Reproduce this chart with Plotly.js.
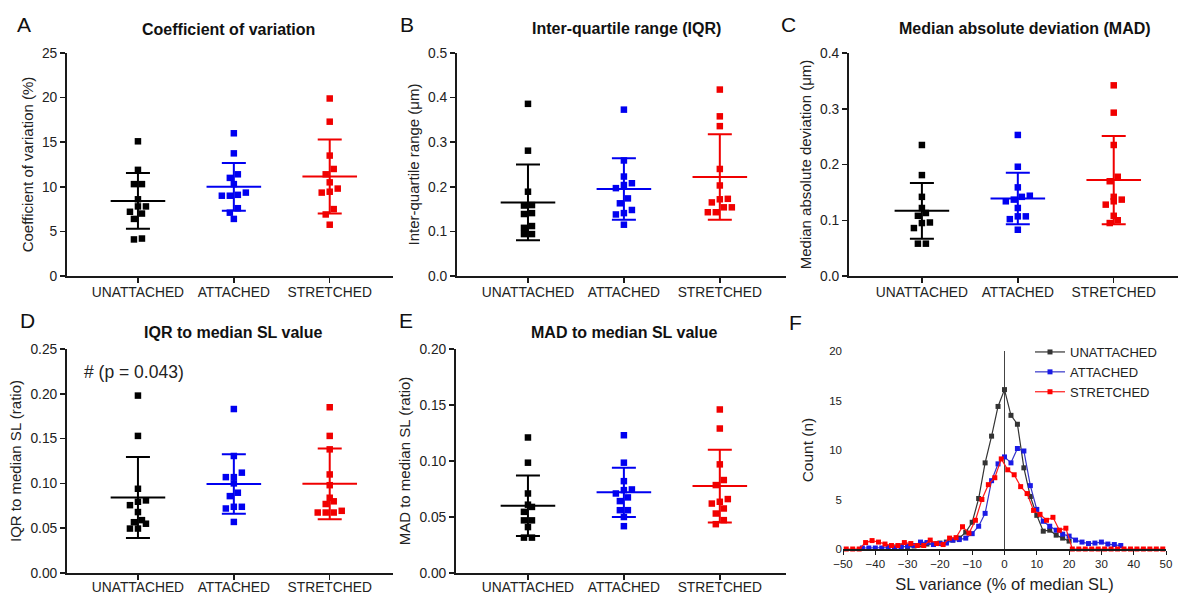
<!DOCTYPE html>
<html>
<head>
<meta charset="utf-8">
<script src="https://cdn.plot.ly/plotly-3.0.1.min.js"></script>
<style>html,body{margin:0;padding:0;background:#fff;}#chart{width:1178px;height:594px;}</style>
</head>
<body>
<div id="chart"></div>
<script>
// ---------- categories ----------
const groups = ['UNATTACHED', 'ATTACHED', 'STRETCHED'];

// ---------- A: coefficient of variation (%) ----------
const cvUnattached = [15.1, 11.9, 10.3, 10.3, 8.6, 7.8, 7.8, 7.0, 7.2, 6.4, 4.1, 4.2];
const cvAttached   = [16.0, 13.75, 11.4, 11.0, 10.3, 9.1, 9.0, 9.0, 9.35, 7.6, 7.1, 6.4];
const cvStretched  = [19.9, 17.3, 13.5, 12.0, 11.4, 10.5, 9.8, 9.35, 9.45, 7.5, 6.9, 5.75];
const cvMean = [8.42, 10.0, 11.15];
const cvSD   = [3.12, 2.68, 4.15];

// ---------- B: inter-quartile range (um) ----------
const iqrUnattached = [0.386, 0.281, 0.189, 0.159, 0.158, 0.139, 0.141, 0.108, 0.112, 0.094, 0.094];
const iqrAttached   = [0.373, 0.259, 0.223, 0.204, 0.208, 0.197, 0.174, 0.163, 0.141, 0.148, 0.138, 0.115];
const iqrStretched  = [0.418, 0.358, 0.336, 0.240, 0.203, 0.172, 0.173, 0.165, 0.154, 0.154, 0.143, 0.143];
const iqrMean = [0.165, 0.195, 0.222];
const iqrSD   = [0.085, 0.069, 0.096];

// ---------- C: median absolute deviation (um) ----------
const madUnattached = [0.235, 0.181, 0.142, 0.122, 0.113, 0.108, 0.096, 0.095, 0.086, 0.058, 0.058];
const madAttached   = [0.253, 0.196, 0.159, 0.142, 0.144, 0.137, 0.134, 0.122, 0.107, 0.107, 0.102, 0.083];
const madStretched  = [0.342, 0.293, 0.235, 0.170, 0.178, 0.142, 0.137, 0.134, 0.128, 0.108, 0.095, 0.100];
const madMean = [0.117, 0.139, 0.172];
const madSD   = [0.050, 0.046, 0.079];

// ---------- D: IQR to median SL (ratio) ----------
const iqrRatioUnattached = [0.198, 0.153, 0.094, 0.081, 0.0795, 0.0757, 0.068, 0.059, 0.055, 0.0567, 0.0496, 0.0496];
const iqrRatioAttached   = [0.183, 0.1306, 0.112, 0.107, 0.107, 0.100, 0.0896, 0.0858, 0.0739, 0.0739, 0.072, 0.057];
const iqrRatioStretched  = [0.185, 0.153, 0.138, 0.110, 0.098, 0.080, 0.084, 0.077, 0.0675, 0.0675, 0.0675, 0.0694];
const iqrRatioMean = [0.0843, 0.0993, 0.0995];
const iqrRatioSD   = [0.0452, 0.0331, 0.0395];

// ---------- E: MAD to median SL (ratio) ----------
const madRatioUnattached = [0.121, 0.0985, 0.071, 0.061, 0.059, 0.0546, 0.047, 0.047, 0.041, 0.0316, 0.0316];
const madRatioAttached   = [0.123, 0.0985, 0.082, 0.0746, 0.074, 0.071, 0.0675, 0.0642, 0.0561, 0.0561, 0.050, 0.0418];
const madRatioStretched  = [0.146, 0.129, 0.097, 0.083, 0.0785, 0.066, 0.0636, 0.062, 0.0576, 0.0531, 0.0472, 0.0436];
const madRatioMean = [0.060, 0.072, 0.0776];
const madRatioSD   = [0.027, 0.022, 0.0325];

// ---------- F: SL variance histogram ----------
const fBinsUnattached = [-34,-32,-30,-28,-26,-24,-22,-20,-18,-16,-14,-12,-10,-8,-6,-4,-2,0,2,4,6,8,10,12,14,16,18,20];
const fUnattached     = [0.2,0.3,0.2,0.3,0.4,0.5,0.5,0.6,0.7,0.9,1.1,1.7,2.7,5.1,8.7,11.4,14.4,16.1,13.5,12.6,8.2,5.3,3.4,1.8,1.9,1.4,1.1,0.8];
const fBinsAttached = [-44,-42,-40,-38,-36,-34,-32,-30,-28,-26,-24,-22,-20,-18,-16,-14,-12,-10,-8,-6,-4,-2,0,2,4,6,8,10,12,14,16,18,20,22,24,26,28,30,32,34,36];
const fAttached     = [0.1,0.1,0.1,0.1,0.15,0.15,0.2,0.3,0.35,0.7,0.65,0.45,0.55,0.6,0.9,0.95,1.1,1.55,2.3,3.6,6.9,8.6,9.3,8.7,10.15,9.9,6.4,4.0,2.8,2.3,1.9,1.5,1.3,0.9,0.7,0.55,0.6,0.7,0.5,0.45,0.35];
const fBinsStretched = [-49,-47,-45,-43,-41,-39,-37,-35,-33,-31,-29,-27,-25,-23,-21,-19,-17,-15,-13,-11,-9,-7,-5,-3,-1,1,3,5,7,9,11,13,15,17,19,21,23,25,27,29,31,33,35,37,39,41,43,45,47,49];
const fStretched     = [0,0,0,0.65,0.85,0.7,0.5,0.35,0.35,0.65,0.55,0.35,0.35,0.9,0.55,0.45,1.1,1.15,2.25,1.6,2.9,5.0,6.5,7.2,9.1,8.0,7.5,6.3,5.6,3.9,3.5,2.9,3.2,1.9,2.1,0,0,0,0,0,0,0,0,0,0,0,0,0,0,0];

// ---------- styling / layout helpers ----------
const W = 1178, H = 594;
const FONT = 'Liberation Sans, Arial, Helvetica, sans-serif';
const colors = ['#000000', '#0000f0', '#f00000'];
const fx = p => p / W;
const fy = p => 1 - p / H;

const panels = [
  {sets:[cvUnattached, cvAttached, cvStretched], mean:cvMean, sd:cvSD,
   x:[67,393], y:[53,276], xr:[-0.74,2.66], yr:[0,25], dtick:5, fmt:'d', ls:-3,
   title:'Coefficient of variation', ytitle:'Coefficient of variation (%)', tpos:[228,29], letter:'A', lpos:[24,25]},
  {sets:[iqrUnattached, iqrAttached, iqrStretched], mean:iqrMean, sd:iqrSD,
   x:[457,786], y:[53,276], xr:[-0.74,2.69], yr:[0,0.5], dtick:0.1, fmt:'.1f', ls:-3,
   title:'Inter-quartile range (IQR)', ytitle:'Inter-quartile range (μm)', tpos:[626,28], letter:'B', lpos:[407,24]},
  {sets:[madUnattached, madAttached, madStretched], mean:madMean, sd:madSD,
   x:[849,1178], y:[53,276], xr:[-0.76,2.67], yr:[0,0.4], dtick:0.1, fmt:'.1f', ls:-3,
   title:'Median absolute deviation (MAD)', ytitle:'Median absolute deviation (μm)', tpos:[1025,28], letter:'C', lpos:[788,24]},
  {sets:[iqrRatioUnattached, iqrRatioAttached, iqrRatioStretched], mean:iqrRatioMean, sd:iqrRatioSD,
   x:[67,393], y:[349,573], xr:[-0.74,2.66], yr:[0,0.25], dtick:0.05, fmt:'.2f', ls:-5,
   title:'IQR to median SL value', ytitle:'IQR to median SL (ratio)', tpos:[233,333], letter:'D', lpos:[27,320]},
  {sets:[madRatioUnattached, madRatioAttached, madRatioStretched], mean:madRatioMean, sd:madRatioSD,
   x:[456,786], y:[349,573], xr:[-0.75,2.69], yr:[0,0.2], dtick:0.05, fmt:'.2f', ls:-5,
   title:'MAD to median SL value', ytitle:'MAD to median SL (ratio)', tpos:[624,333], letter:'E', lpos:[406,320]}
];

// simple beeswarm: points closer than ~a marker vertically are spread symmetrically
function swarm(vals, pxPerY, pxPerX, gapPx, stepPx) {
  const idx = vals.map((v, i) => i).sort((a, b) => vals[a] - vals[b]);
  const off = new Array(vals.length).fill(0);
  let g = [];
  const flush = () => {
    const n = g.length;
    g.forEach((k, j) => { off[k] = (j - (n - 1) / 2) * stepPx / pxPerX; });
    g = [];
  };
  idx.forEach(k => {
    if (g.length && (vals[k] - vals[g[0]]) * pxPerY >= gapPx) flush();
    g.push(k);
  });
  flush();
  return off;
}

const axisLine = {showline:true, linecolor:'#1a1a1a', linewidth:2, ticks:'outside', ticklen:5, tickwidth:1.5,
  tickcolor:'#1a1a1a', showgrid:false, zeroline:false, fixedrange:true};
const tickFont = {family:FONT, size:13.8, color:'#222'};

const data = [];
const layout = {
  width:W, height:H, margin:{l:0, r:0, t:0, b:0},
  paper_bgcolor:'#fff', plot_bgcolor:'rgba(0,0,0,0)',
  font:{family:FONT, color:'#222'},
  showlegend:true,
  annotations:[]
};

panels.forEach((p, n) => {
  const k = n + 1;
  const xa = k === 1 ? 'xaxis' : 'xaxis' + k;
  const ya = k === 1 ? 'yaxis' : 'yaxis' + k;
  const xr = 'x' + (k === 1 ? '' : k), yr = 'y' + (k === 1 ? '' : k);
  layout[xa] = Object.assign({}, axisLine, {
    domain:[fx(p.x[0]), fx(p.x[1])], range:p.xr, anchor:yr,
    tickmode:'array', tickvals:[0,1,2], ticktext:groups, tickfont:tickFont, ticklabelstandoff:p.ls
  });
  layout[ya] = Object.assign({}, axisLine, {
    domain:[fy(p.y[1]), fy(p.y[0])], range:p.yr, anchor:xr,
    dtick:p.dtick, tick0:0, tickformat:p.fmt, tickfont:tickFont,
    title:{text:p.ytitle, font:{family:FONT, size:15, color:'#222'}, standoff:5}
  });
  const pxPerY = (p.y[1] - p.y[0]) / (p.yr[1] - p.yr[0]);
  const pxPerX = (p.x[1] - p.x[0]) / (p.xr[1] - p.xr[0]);
  p.sets.forEach((vals, g) => {
    // mean line + SD error bar
    data.push({
      type:'scatter', mode:'markers', xaxis:xr, yaxis:yr, showlegend:false, hoverinfo:'skip',
      x:[g], y:[p.mean[g]],
      marker:{symbol:'line-ew', size:39, color:colors[g], line:{width:2, color:colors[g]}},
      error_y:{type:'data', array:[p.sd[g]], visible:true, width:12, thickness:2, color:colors[g]}
    });
    const off = swarm(vals, pxPerY, pxPerX, 6, 8);
    data.push({
      type:'scatter', mode:'markers', xaxis:xr, yaxis:yr, showlegend:false,
      x:vals.map((v, i) => g + off[i]), y:vals, name:groups[g],
      marker:{symbol:'square', size:6.5, color:colors[g]}
    });
  });
  layout.annotations.push({xref:'paper', yref:'paper', x:fx(p.tpos[0]), y:fy(p.tpos[1]), xanchor:'center', yanchor:'middle',
    text:'<b>' + p.title + '</b>', showarrow:false, font:{family:FONT, size:16, color:'#111'}});
  layout.annotations.push({xref:'paper', yref:'paper', x:fx(p.lpos[0]), y:fy(p.lpos[1]), xanchor:'center', yanchor:'middle',
    text:p.letter, showarrow:false, font:{family:FONT, size:21, color:'#111'}});
});

// significance note in panel D
layout.annotations.push({xref:'paper', yref:'paper', x:fx(82), y:fy(372), xanchor:'left', yanchor:'middle',
  text:'# (p = 0.043)', showarrow:false, font:{family:FONT, size:17.5, color:'#222'}});

// ---------- panel F ----------
layout.xaxis6 = {
  domain:[fx(843), fx(1166)], range:[-50,50], anchor:'y6', showline:true, linecolor:'#1a1a1a', linewidth:1.5,
  ticks:'outside', ticklen:4, tickwidth:1, tickcolor:'#1a1a1a', dtick:10, tick0:-50, showgrid:false,
  zeroline:true, zerolinecolor:'#444', zerolinewidth:1.5, fixedrange:true,
  tickfont:{family:FONT, size:11.5, color:'#222'},
  title:{text:'SL variance (% of median SL)', font:{family:FONT, size:16.5, color:'#222'}, standoff:9}
};
layout.yaxis6 = {
  domain:[fy(549), fy(351)], range:[0,20], anchor:'x6', showline:false, ticks:'', dtick:5, tick0:0,
  showgrid:false, zeroline:false, fixedrange:true,
  tickfont:{family:FONT, size:11.5, color:'#222'},
  title:{text:'Count (n)', font:{family:FONT, size:15.5, color:'#222'}, standoff:11}
};
const fSeries = [
  {x:fBinsUnattached, y:fUnattached, c:'#333333', lc:'#333333'},
  {x:fBinsAttached, y:fAttached, c:'#1a1ae6', lc:'#3535c8'},
  {x:fBinsStretched, y:fStretched, c:'#ff0000', lc:'#ff1a1a'}
];
fSeries.forEach((s, g) => {
  data.push({
    type:'scatter', mode:'lines+markers', xaxis:'x6', yaxis:'y6', name:groups[g], cliponaxis:false,
    x:s.x, y:s.y, line:{color:s.lc, width:1.2}, marker:{symbol:'square', size:5, color:s.c}
  });
});
layout.annotations.push({xref:'paper', yref:'paper', x:fx(795), y:fy(322), xanchor:'center', yanchor:'middle',
  text:'F', showarrow:false, font:{family:FONT, size:21, color:'#111'}});

layout.legend = {x:fx(1030), y:fy(337), xanchor:'left', yanchor:'top', bgcolor:'rgba(0,0,0,0)',
  font:{family:FONT, size:13, color:'#222'}, itemwidth:30, tracegroupgap:0};

Plotly.newPlot('chart', data, layout, {staticPlot:true, displayModeBar:false});
</script>
</body>
</html>
